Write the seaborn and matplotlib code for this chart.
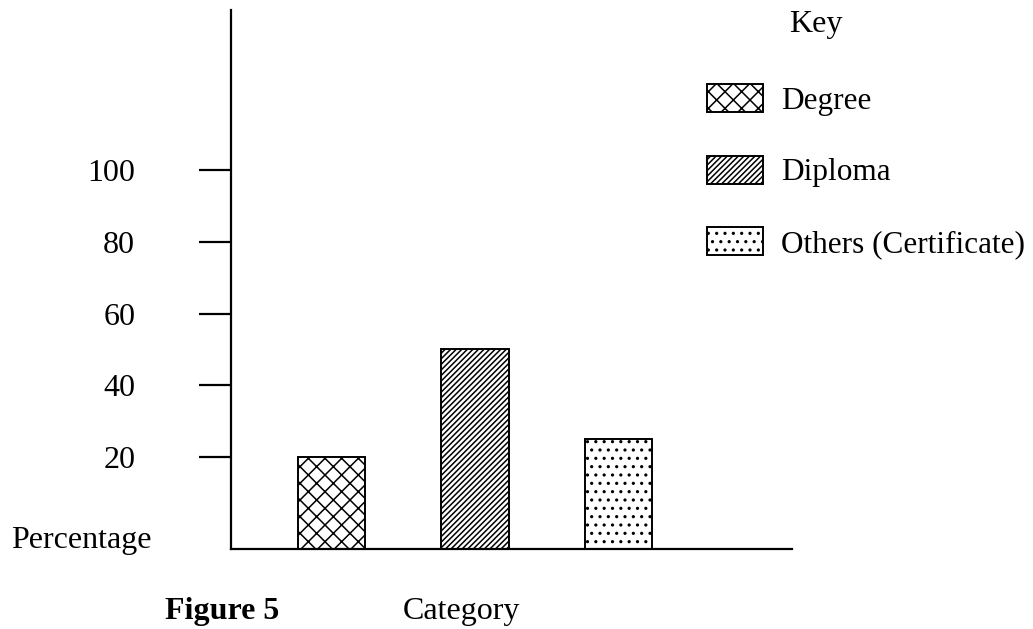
import matplotlib
matplotlib.use("Agg")
import matplotlib.pyplot as plt
import seaborn as sns
import pandas as pd
from matplotlib.patches import Patch

# ---- data ----
categories = ["Degree", "Diploma", "Others (Certificate)"]
percentages = [20, 50, 25]
y_ticks = [20, 40, 60, 80, 100]
hatches = ["xx", "//////", ".."]

sns.set_theme(style="white")
plt.rcParams["font.family"] = ["Liberation Serif", "DejaVu Serif"]
plt.rcParams["hatch.linewidth"] = 1.1
plt.rcParams["hatch.color"] = "black"
plt.rcParams["text.color"] = "black"
plt.rcParams["axes.labelcolor"] = "black"
plt.rcParams["ytick.color"] = "black"
plt.rcParams["xtick.color"] = "black"

FS = 23
W, H = 1033, 629
fig = plt.figure(figsize=(W / 100, H / 100), dpi=100)
fig.patch.set_facecolor("white")
ax = fig.add_axes([231 / W, 80 / H, 561 / W, 539 / H])
ax.set_facecolor("white")

df = pd.DataFrame({"Category": categories, "Percentage": percentages})
sns.barplot(data=df, x="Category", y="Percentage", hue="Category",
            palette=["white"] * 3, edgecolor="black", linewidth=1.4,
            width=0.47, legend=False, ax=ax)

ax.set_xlim(-0.70, 3.209)
ax.set_ylim(-5.6, 144.6)
ymin = ax.get_ylim()[0]

# bars are drawn up from the x-axis line, as in the original sketch
for patch, h in zip(ax.patches, hatches):
    patch.set_hatch(h)
    patch.set_edgecolor("black")
    top = patch.get_y() + patch.get_height()
    patch.set_y(ymin)
    patch.set_height(top - ymin)

for s in ["top", "right"]:
    ax.spines[s].set_visible(False)
for s in ["left", "bottom"]:
    ax.spines[s].set_color("black")
    ax.spines[s].set_linewidth(1.6)

ax.set_yticks(y_ticks)
ax.set_yticklabels([str(v) for v in y_ticks], fontsize=FS, color="black")
ax.tick_params(axis="y", direction="out", length=23, width=1.6,
               color="black", pad=46, left=True)
ax.set_xticks([])
ax.set_xlabel("")
ax.set_ylabel("")

fig.text(11 / W, 1 - 548 / H, "Percentage", fontsize=FS, va="baseline", ha="left")
fig.text(165 / W, 1 - 619 / H, "Figure 5", fontsize=FS, fontweight="bold",
         va="baseline", ha="left")
fig.text(403 / W, 1 - 619 / H, "Category", fontsize=FS, va="baseline", ha="left")
fig.text(789 / W, 1 - 32 / H, "Key", fontsize=FS, va="baseline", ha="left")

handles = [Patch(facecolor="white", edgecolor="black", hatch=h, linewidth=1.4,
                 label=c) for h, c in zip(hatches, categories)]
fig.legend(handles=handles, loc="upper left",
           bbox_to_anchor=(707 / W, 1 - 84 / H), frameon=False,
           fontsize=22.5, handlelength=1.78, handleheight=1.0,
           handletextpad=0.6, labelspacing=1.28, borderpad=0,
           borderaxespad=0)

fig.savefig("out.png", dpi=100, facecolor="white")
